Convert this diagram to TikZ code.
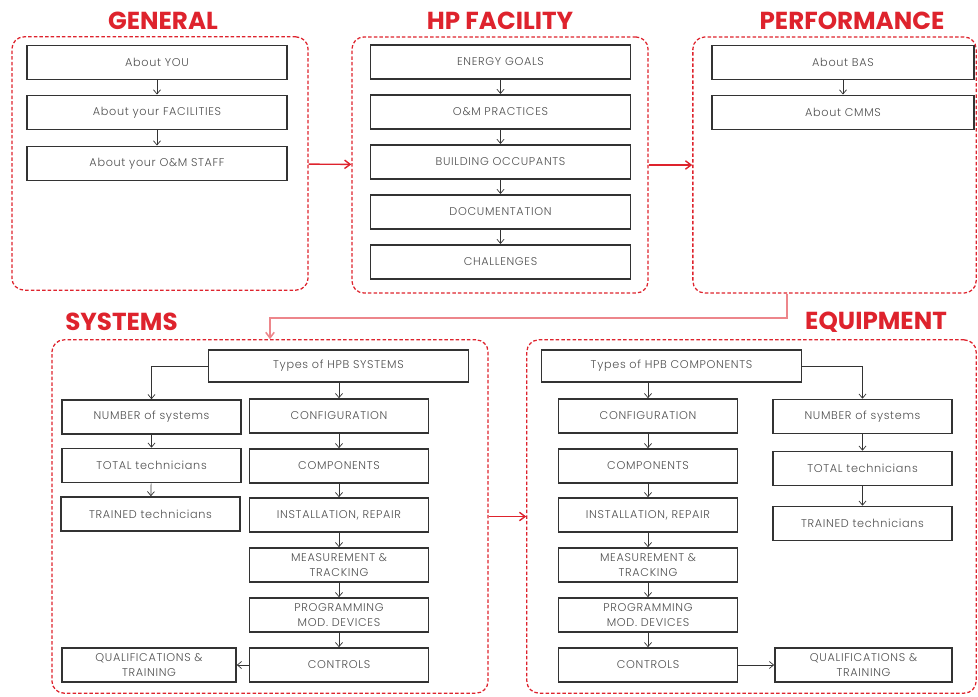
\documentclass[tikz,border=0pt]{standalone}
\usepackage{fontspec}
\setmainfont{Poppins}
\newfontfamily\boxfont[LetterSpace=6]{Poppins Light}
\usetikzlibrary{arrows.meta}
\definecolor{titlered}{RGB}{222,35,45}
\definecolor{boxtext}{RGB}{80,80,80}
\tikzset{
  group/.style={draw=titlered, dashed, dash pattern=on 2.5pt off 1.5pt, line width=0.9pt,
    rounded corners=0.3cm, inner sep=0pt},
  grouptitle/.style={text=titlered, font=\fontsize{17.5}{17.5}\selectfont\bfseries, inner sep=0pt},
  item/.style={draw=black!80, line width=1.1pt, fill=white, text=boxtext,
    font=\boxfont\fontsize{8}{10.5}\selectfont, align=center, inner sep=1pt},
  wide/.style={item, minimum width=6.5cm, minimum height=0.86cm},
  half/.style={item, minimum width=4.48cm, minimum height=0.85cm},
  flow/.style={-{Straight Barb[length=3pt,width=5pt]}, black!80, line width=0.5pt},
  bigflow/.style={-{Straight Barb[length=4pt,width=6pt]}, titlered, line width=1pt},
  backflow/.style={-{Straight Barb[length=4pt,width=6pt]}, titlered!55, line width=1.1pt}
}
\begin{document}
\begin{tikzpicture}[x=0.025cm, y=-0.025cm]
  \useasboundingbox (0,0) rectangle (978,696);

  %%%%%%%%%%%%%General%%%%%%%%%%%%%%%%%%%%%%
  \node[group, minimum width=7.4cm, minimum height=6.33cm] (gen) at (160,163.5) {};
  \node[grouptitle] (gentitle) at (163,21) {GENERAL};
  \node[wide] (you) at (157,62.5) {About YOU};
  \node[wide] (fac) at (157,112.5) {About your FACILITIES};
  \node[wide] (staff) at (157,163.5) {About your O\&M STAFF};
  \draw[flow] (you) -- (fac);
  \draw[flow] (fac) -- (staff);

  %%%%%%%%%%%%%HP facility%%%%%%%%%%%%%%%%%%%%%%
  \node[group, minimum width=7.4cm, minimum height=6.4cm] (hpf) at (500,165) {};
  \node[grouptitle] (hpftitle) at (500,21) {HP FACILITY};
  \node[wide] (goals) at (500.5,62) {ENERGY GOALS};
  \node[wide] (prac) at (500.5,112) {O\&M PRACTICES};
  \node[wide] (occ) at (500.5,162) {BUILDING OCCUPANTS};
  \node[wide] (doc) at (500.5,212) {DOCUMENTATION};
  \node[wide] (chal) at (500.5,262) {CHALLENGES};
  \draw[flow] (goals) -- (prac);
  \draw[flow] (prac) -- (occ);
  \draw[flow] (occ) -- (doc);
  \draw[flow] (doc) -- (chal);

  %%%%%%%%%%%%%Performance%%%%%%%%%%%%%%%%%%%%%%
  \node[group, minimum width=7.08cm, minimum height=6.4cm] (perf) at (834.5,165) {};
  \node[grouptitle] (perftitle) at (852,21) {PERFORMANCE};
  \node[wide, minimum width=6.55cm] (bas) at (843,62.5) {About BAS};
  \node[wide, minimum width=6.55cm] (cmms) at (843,112.5) {About CMMS};
  \draw[flow] (bas) -- (cmms);

  \draw[bigflow] (gen) -- (hpf);
  \draw[bigflow] (hpf) -- (perf);

  %%%%%%%%%%%%%Systems%%%%%%%%%%%%%%%%%%%%%%
  \node[group, minimum width=10.9cm, minimum height=8.83cm] (sys) at (270,516.5) {};
  \node[grouptitle, anchor=west] (systitle) at (65,322) {SYSTEMS};
  \node[wide, minimum height=0.8cm] (stypes) at (338.5,366) {Types of HPB SYSTEMS};
  \node[half] (snum) at (151.5,417) {NUMBER of systems};
  \node[half] (stot) at (151.5,465.5) {TOTAL technicians};
  \node[half] (strain) at (150.5,514) {TRAINED technicians};
  \node[half] (sconf) at (339,416) {CONFIGURATION};
  \node[half] (scomp) at (339,466) {COMPONENTS};
  \node[half] (sinst) at (339,515) {INSTALLATION, REPAIR};
  \node[half] (smeas) at (339,565) {MEASUREMENT \&\\TRACKING};
  \node[half] (sprog) at (339,615) {PROGRAMMING\\MOD. DEVICES};
  \node[half] (sctrl) at (339,665) {CONTROLS};
  \node[half, minimum width=4.35cm] (squal) at (149,665) {QUALIFICATIONS \&\\TRAINING};
  \draw[flow] (stypes.west) -| (snum.north);
  \draw[flow] (snum) -- (stot);
  \draw[flow] (stot) -- (strain);
  \draw[flow] (stypes.south -| sconf) -- (sconf);
  \draw[flow] (sconf) -- (scomp);
  \draw[flow] (scomp) -- (sinst);
  \draw[flow] (sinst) -- (smeas);
  \draw[flow] (smeas) -- (sprog);
  \draw[flow] (sprog) -- (sctrl);
  \draw[flow] (sctrl) -- (squal);

  %%%%%%%%%%%%%Equipment%%%%%%%%%%%%%%%%%%%%%%
  \node[group, minimum width=11.23cm, minimum height=8.83cm] (equ) at (751.5,516.5) {};
  \node[grouptitle] (equtitle) at (876,322) {EQUIPMENT};
  \node[wide, minimum height=0.8cm] (etypes) at (671.5,366) {Types of HPB COMPONENTS};
  \node[half] (econf) at (648,416) {CONFIGURATION};
  \node[half] (ecomp) at (648,466) {COMPONENTS};
  \node[half] (einst) at (648,515) {INSTALLATION, REPAIR};
  \node[half] (emeas) at (648,565) {MEASUREMENT \&\\TRACKING};
  \node[half] (eprog) at (648,615) {PROGRAMMING\\MOD. DEVICES};
  \node[half] (ectrl) at (648,665) {CONTROLS};
  \node[half] (enum) at (862.5,416.5) {NUMBER of systems};
  \node[half] (etot) at (862.5,468.5) {TOTAL technicians};
  \node[half] (etrain) at (862.5,523.5) {TRAINED technicians};
  \node[half, minimum width=4.43cm] (equal) at (863.5,665) {QUALIFICATIONS \&\\TRAINING};
  \draw[flow] (etypes.south -| econf) -- (econf);
  \draw[flow] (econf) -- (ecomp);
  \draw[flow] (ecomp) -- (einst);
  \draw[flow] (einst) -- (emeas);
  \draw[flow] (emeas) -- (eprog);
  \draw[flow] (eprog) -- (ectrl);
  \draw[flow] (etypes.east) -| (enum.north);
  \draw[flow] (enum) -- (etot);
  \draw[flow] (etot) -- (etrain);
  \draw[flow] (ectrl) -- (equal);

  %%%%%%%%%%%%%Between groups%%%%%%%%%%%%%%%%%%%%%%
  \coordinate (turn) at (787,318);
  \draw[backflow] (perf.south -| turn) -- (turn) -| (sys.north);
  \draw[bigflow] (sys) -- (equ);
\end{tikzpicture}
\end{document}
